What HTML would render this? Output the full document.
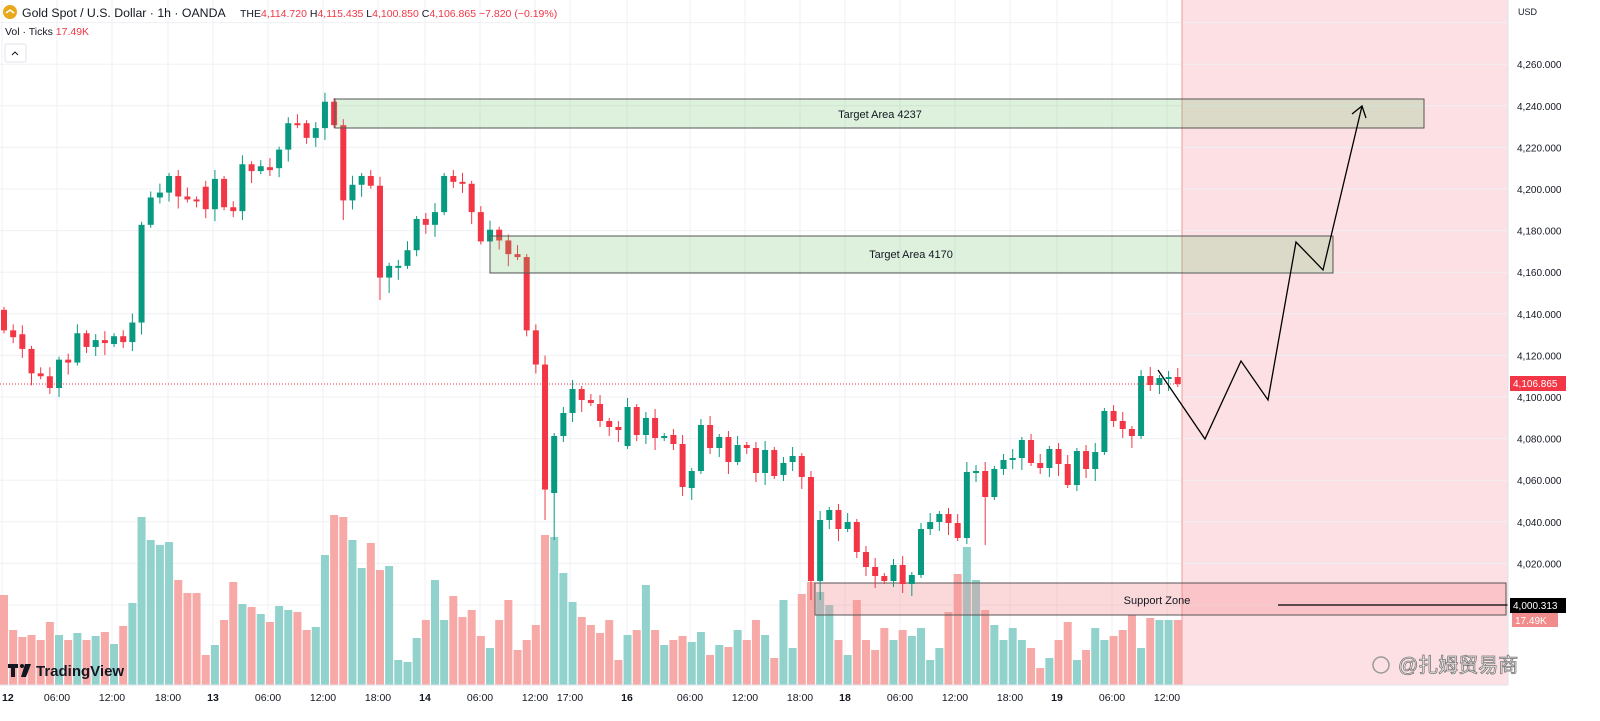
<!DOCTYPE html>
<html><head><meta charset="utf-8"><style>
html,body{margin:0;padding:0;background:#fff;}
body{width:1600px;height:721px;overflow:hidden;position:relative;font-family:"Liberation Sans","Noto Sans CJK SC",sans-serif;}
svg{position:absolute;left:0;top:0;}
</style></head><body>
<svg id="c" width="1600" height="721" xmlns="http://www.w3.org/2000/svg" font-family="Liberation Sans, Noto Sans CJK SC, sans-serif"></svg>
<script>
const S=document.getElementById('c');let h='';
h+='<rect x="1182" y="0" width="326" height="685" fill="#fde0e3"/>';
const py=p=>605-(p-4000)*2.08;
for(let p=4000;p<=4280;p+=20){const y=py(p);h+=`<line x1="0" x2="1508" y1="${y}" y2="${y}" stroke="#eef0f4" stroke-width="1"/>`;}
const tl=[[2,'12',1],[57,'06:00'],[112,'12:00'],[168,'18:00'],[213,'13',1],[268,'06:00'],[323,'12:00'],[378,'18:00'],[425,'14',1],[480,'06:00'],[535,'12:00'],[570,'17:00'],[627,'16',1],[690,'06:00'],[745,'12:00'],[800,'18:00'],[845,'18',1],[900,'06:00'],[955,'12:00'],[1010,'18:00'],[1057,'19',1],[1112,'06:00'],[1167,'12:00']];
tl.forEach(t=>{h+=`<line x1="${t[0]}" x2="${t[0]}" y1="0" y2="685" stroke="#eef0f4"/>`;});
h+='<line x1="1182" x2="1182" y1="0" y2="685" stroke="#ef9a9a" stroke-width="1"/>';
const A=[[315,336],[336,343],[340,355],[355,380],[380,383],[383,395],[395,366],[366,369],[369,339],[339,353],[353,346],[346,349],[350,342],[342,348],[348,328],[328,228],[228,200],[200,195],[195,178],[178,199],[199,202],[202,203],[189,212],[212,181],[181,210],[210,214],[214,166],[166,173],[173,168],[169,172],[170,151],[151,124],[124,124],[124,139],[139,129],[129,102],[102,126],[126,203],[203,187],[187,178],[178,188],[188,282],[282,270],[270,270],[270,254],[254,222],[222,228],[228,215],[215,178],[178,184],[184,186],[186,215],[215,245],[245,233],[233,244],[244,258],[258,261],[261,336],[336,371],[371,499]].map(a=>a.map(y=>y-(y-90)*0.023));
const B=[[493,436],[436,413],[413,389],[389,400],[400,403],[404,421],[421,427],[427,430],[446,407],[407,435],[435,418],[418,438],[438,436],[435,444],[444,487],[488,471],[471,425],[425,448],[448,437],[437,462],[462,445],[445,448],[448,473],[473,450],[450,476],[475,463],[462,456]];
const C=[[456,477],[477,581],[581,520],[520,510],[510,529],[529,522],[522,552],[552,567],[567,576],[576,581],[581,565],[565,584],[584,575],[575,529],[529,522],[522,514],[514,523],[523,538],[538,472],[472,471],[471,497],[497,469],[469,460],[460,458],[458,440],[440,463],[463,468],[468,449],[449,464],[464,485],[485,451],[451,469],[469,452],[452,411],[411,421],[421,429],[429,436],[436,376],[376,385],[385,378],[378,377],[377,384]];
const D=A.concat(B,C);
const V=[595,630,637,635,640,622,635,640,633,640,636,632,644,626,603,517,540,545,542,580,593,593,655,645,620,582,604,607,614,622,606,610,612,630,627,555,515,517,540,568,543,570,566,660,662,638,620,580,620,596,617,610,636,648,620,600,650,640,625,535,537,573,602,617,625,633,620,660,635,630,585,630,645,640,636,642,632,655,645,647,630,640,620,635,658,600,648,594,582,592,605,640,655,600,640,650,628,640,630,636,628,660,648,612,574,547,580,610,625,640,628,640,648,668,658,640,622,660,650,628,640,636,630,615,648,618,620,620,620];
const ex={59:[0,520],60:[0,540],37:[0,220],41:[0,300],42:[0,293],36:[98,0],88:[0,600],89:[0,600],105:[462,0],107:[0,545]};
let vol='',cd='';
D.forEach((d,i)=>{const x=4+i*9.17;const up=d[1]<d[0]||(d[1]==d[0]&&i%2);const col=up?'#089981':'#f23645';
 const vt=V[i]||620;vol+=`<rect x="${x-4}" y="${vt}" width="8" height="${685-vt}" fill="${up?'#92d2cc':'#f7a9a7'}"/>`;
 let top=Math.min(d[0],d[1]),bot=Math.max(d[0],d[1]);if(bot-top<2){bot=top+2;}
 let hi=top-3-(i%3)*3,lo=bot+3+(i%4)*3;if(ex[i]){if(ex[i][0])hi=ex[i][0];if(ex[i][1])lo=ex[i][1];}
 cd+=`<line x1="${x}" x2="${x}" y1="${hi}" y2="${lo}" stroke="${col}" stroke-width="1"/><rect x="${x-3}" y="${top}" width="6" height="${bot-top}" fill="${col}"/>`;});
h+=vol;
h+='<rect x="815" y="583" width="691" height="32" fill="rgba(244,143,150,0.35)" stroke="#555" stroke-width="1"/>';
h+=cd;
h+='<line x1="0" x2="1182" y1="384" y2="384" stroke="#f23645" stroke-dasharray="1,2" stroke-width="1"/>';
h+='<rect x="335" y="99" width="1089" height="29" fill="rgba(100,190,100,0.22)" stroke="#555" stroke-width="1"/>';
h+='<rect x="490" y="236" width="843" height="37" fill="rgba(100,190,100,0.22)" stroke="#555" stroke-width="1"/>';
h+='<text x="880" y="118" font-size="11" text-anchor="middle" fill="#131722">Target Area 4237</text>';
h+='<text x="911" y="258" font-size="11" text-anchor="middle" fill="#131722">Target Area 4170</text>';
h+='<text x="1157" y="604" font-size="11" text-anchor="middle" fill="#131722">Support Zone</text>';
h+='<line x1="1278" x2="1508" y1="605" y2="605" stroke="#000" stroke-width="1.3"/>';
h+='<polyline points="1158,370 1205,439 1241,361 1268,400 1296,242 1323,270 1362,106" fill="none" stroke="#000" stroke-width="1.3"/>';
h+='<polyline points="1352,114 1362,106 1366,118" fill="none" stroke="#000" stroke-width="1.3"/>';
h+='<rect x="1508" y="0" width="92" height="721" fill="#fff"/><line x1="1508" x2="1508" y1="0" y2="685" stroke="#e0e3eb"/>';
h+='<text x="1518" y="15" font-size="9" fill="#131722">USD</text>';
for(let p=4020;p<=4260;p+=20){h+=`<text x="1517" y="${py(p)+4}" font-size="10" fill="#131722">4,${String(p-4000).padStart(3,'0')}.000</text>`;}
h+='<rect x="1510" y="376" width="56" height="15" fill="#f23645"/><text x="1513" y="387" font-size="10" fill="#fff">4,106.865</text>';
h+='<rect x="1510" y="598" width="56" height="15" fill="#000"/><text x="1513" y="609" font-size="10" fill="#fff">4,000.313</text>';
h+='<rect x="1512" y="613" width="46" height="14" fill="#f28b8b"/><text x="1515" y="624" font-size="10" fill="#fff">17.49K</text>';
h+='<line x1="0" x2="1508" y1="685" y2="685" stroke="#e0e3eb"/>';
tl.forEach(t=>{h+=`<text x="${t[0]}" y="701" font-size="10.5" text-anchor="${t[0]<10?'start':'middle'}" fill="#131722" ${t[2]?'font-weight="bold"':''}>${t[1]}</text>`;});
h+='<circle cx="10" cy="12" r="7" fill="#e8a81c"/><path d="M6 13 L10 10 L14 13" stroke="#fff" stroke-width="1.5" fill="none"/>';
h+='<text x="22" y="17" font-size="12.3" fill="#131722">Gold Spot / U.S. Dollar · 1h · OANDA</text>';
h+='<text x="240" y="17" font-size="10.5" fill="#131722">THE<tspan fill="#f23645">4,114.720</tspan> H<tspan fill="#f23645">4,115.435</tspan> L<tspan fill="#f23645">4,100.850</tspan> C<tspan fill="#f23645">4,106.865 −7.820 (−0.19%)</tspan></text>';
h+='<text x="5" y="35" font-size="10.5" fill="#131722">Vol · Ticks <tspan fill="#f23645">17.49K</tspan></text>';
h+='<rect x="5" y="44" width="21" height="18" rx="2" fill="#fff" stroke="#e0e3eb"/><path d="M12 55 L15 52 L18 55" stroke="#131722" fill="none"/>';
h+='<rect x="8" y="664" width="10" height="4" fill="#131722"/><rect x="11" y="664" width="4" height="13" fill="#131722"/><circle cx="22" cy="666" r="2" fill="#131722"/><path d="M25 664 L31 664 L26 677 L21 677 Z" fill="#131722"/>';
h+='<text x="36" y="676" font-size="15" font-weight="bold" fill="#131722">TradingView</text>';
h+='<circle cx="1381" cy="665" r="8" fill="none" stroke="#999" stroke-width="1.5"/>';
h+='<text x="1398" y="672" font-size="20" fill="#fff" stroke="#777" stroke-width="0.8">@扎姆贸易商</text>';
S.innerHTML=h;
</script>
</body></html>
